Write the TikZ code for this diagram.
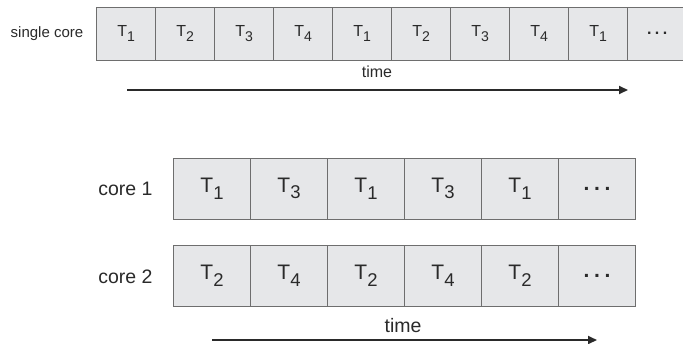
\documentclass[tikz,border=0pt]{standalone}
\usepackage{fontspec}
\setmainfont{Liberation Sans}
\usetikzlibrary{arrows.meta}
\definecolor{boxfill}{HTML}{E6E7E9}
\definecolor{boxline}{HTML}{6E6E6E}
\definecolor{txt}{HTML}{2A2A2A}
\newcommand\tk[1]{T\raisebox{-0.32em}{\scalebox{0.88}{#1}}}
\newcommand\mydots{\textbf{.\hspace{0.22em}.\hspace{0.22em}.}}
\tikzset{
  topcell/.style={draw=boxline, fill=boxfill, line width=0.8pt, minimum width=59pt,
    minimum height=53pt, inner sep=0pt, outer sep=0pt, anchor=north west,
    text=txt, font=\fontsize{16}{18}\selectfont},
  corecell/.style={draw=boxline, fill=boxfill, line width=0.8pt, minimum width=77pt,
    minimum height=61pt, inner sep=0pt, outer sep=0pt, anchor=north west,
    text=txt, font=\fontsize{21}{24}\selectfont},
  smalllabel/.style={text=txt, font=\fontsize{15}{17}\selectfont, inner sep=0pt},
  biglabel/.style={text=txt, font=\fontsize{19.5}{22}\selectfont, inner sep=0pt},
  timearrow/.style={draw=txt, line width=2pt, -{Triangle[length=9pt,width=8pt]}},
}
\begin{document}
\begin{tikzpicture}[x=1pt,y=-1pt]
\clip (0,0) rectangle (683,343);
\fill[white] (0,0) rectangle (683,343);
% single core row
\node[smalllabel] (single) at (47,33.5) {single core};
\foreach \t [count=\i from 0] in {1,2,3,4,1,2,3,4,1}
  \node[topcell] (s\i) at ({96.7+59*\i},7) {\tk{\t}};
\node[topcell] (s9) at ({96.7+59*9},7) {\mydots};
\node[font=\fontsize{16}{18}\selectfont, text=txt, inner sep=0pt] (time1) at (377,72) {time};
\coordinate (t1a) at (127,90);
\coordinate (t1b) at (628,90);
\draw[timearrow] (t1a) -- (t1b);
% core rows
\node[biglabel] (core1) at (125.5,189) {core 1};
\node[biglabel] (core2) at (125.5,277) {core 2};
\foreach \t [count=\i from 0] in {1,3,1,3,1}
  \node[corecell] (a\i) at ({173.5+77*\i},158) {\tk{\t}};
\node[corecell] (a5) at ({173.5+77*5},158) {\mydots};
\foreach \t [count=\i from 0] in {2,4,2,4,2}
  \node[corecell] (b\i) at ({173.5+77*\i},245.5) {\tk{\t}};
\node[corecell] (b5) at ({173.5+77*5},245.5) {\mydots};
\node[biglabel] (time2) at (403,326) {time};
\coordinate (t2a) at (212,340);
\coordinate (t2b) at (597,340);
\draw[timearrow] (t2a) -- (t2b);
\end{tikzpicture}
\end{document}
